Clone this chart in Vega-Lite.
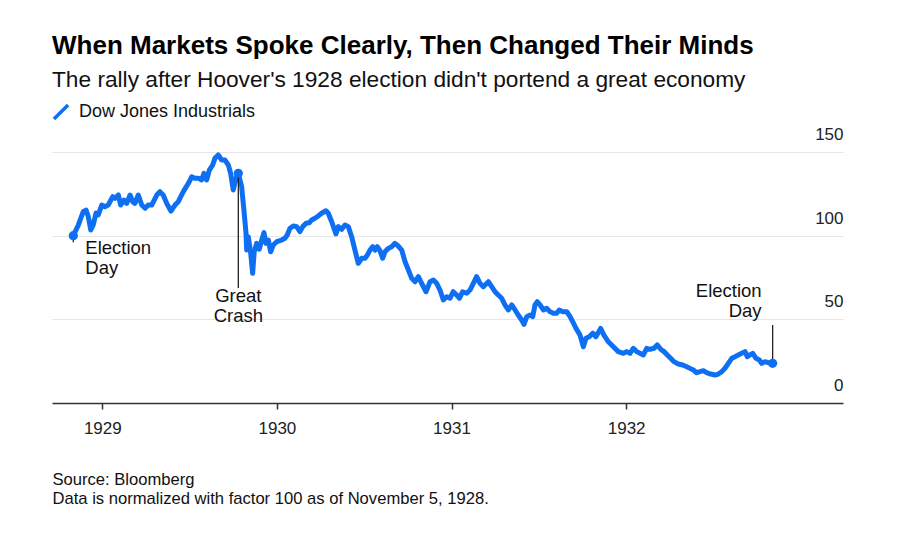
{
  "$schema": "https://vega.github.io/schema/vega-lite/v6.json",
  "width": 791,
  "height": 251,
  "autosize": {"type": "none"},
  "padding": {"left": 52, "top": 152, "right": 57, "bottom": 138},
  "background": "white",
  "config": {
    "view": {"stroke": null},
    "font": "Liberation Sans"
  },
  "title": {
    "text": "When Markets Spoke Clearly, Then Changed Their Minds",
    "subtitle": "The rally after Hoover's 1928 election didn't portend a great economy",
    "anchor": "start",
    "frame": "group",
    "font": "Liberation Sans",
    "fontSize": 26,
    "fontWeight": "bold",
    "color": "#000000",
    "subtitleFont": "Liberation Sans",
    "subtitleFontSize": 22.7,
    "subtitleColor": "#111111",
    "subtitlePadding": 10,
    "offset": 11
  },
  "datasets": {
    "dow": [
      {"year": 1928.834, "value": 100.0},
      {"year": 1928.863, "value": 106.4},
      {"year": 1928.891, "value": 114.3},
      {"year": 1928.907, "value": 115.3},
      {"year": 1928.920, "value": 111.3},
      {"year": 1928.934, "value": 103.4},
      {"year": 1928.948, "value": 106.4},
      {"year": 1928.964, "value": 113.5},
      {"year": 1928.977, "value": 112.4},
      {"year": 1928.997, "value": 118.3},
      {"year": 1929.015, "value": 117.3},
      {"year": 1929.034, "value": 118.3},
      {"year": 1929.060, "value": 123.3},
      {"year": 1929.073, "value": 122.3},
      {"year": 1929.092, "value": 124.3},
      {"year": 1929.105, "value": 118.3},
      {"year": 1929.124, "value": 121.3},
      {"year": 1929.140, "value": 119.3},
      {"year": 1929.159, "value": 124.3},
      {"year": 1929.174, "value": 120.3},
      {"year": 1929.187, "value": 119.3},
      {"year": 1929.206, "value": 124.3},
      {"year": 1929.226, "value": 118.3},
      {"year": 1929.245, "value": 116.4},
      {"year": 1929.263, "value": 118.3},
      {"year": 1929.283, "value": 118.3},
      {"year": 1929.312, "value": 124.3},
      {"year": 1929.330, "value": 126.3},
      {"year": 1929.349, "value": 124.3},
      {"year": 1929.369, "value": 119.3},
      {"year": 1929.393, "value": 114.7},
      {"year": 1929.416, "value": 118.3},
      {"year": 1929.435, "value": 120.3},
      {"year": 1929.464, "value": 126.3},
      {"year": 1929.493, "value": 131.3},
      {"year": 1929.512, "value": 135.2},
      {"year": 1929.531, "value": 134.3},
      {"year": 1929.550, "value": 134.3},
      {"year": 1929.569, "value": 133.3},
      {"year": 1929.582, "value": 137.3},
      {"year": 1929.598, "value": 133.3},
      {"year": 1929.613, "value": 139.2},
      {"year": 1929.632, "value": 142.2},
      {"year": 1929.645, "value": 146.2},
      {"year": 1929.664, "value": 148.2},
      {"year": 1929.684, "value": 145.2},
      {"year": 1929.703, "value": 145.2},
      {"year": 1929.722, "value": 142.2},
      {"year": 1929.735, "value": 137.3},
      {"year": 1929.750, "value": 127.3},
      {"year": 1929.766, "value": 134.3},
      {"year": 1929.779, "value": 137.3},
      {"year": 1929.798, "value": 129.3},
      {"year": 1929.811, "value": 115.3},
      {"year": 1929.823, "value": 101.6},
      {"year": 1929.827, "value": 91.4},
      {"year": 1929.836, "value": 99.4},
      {"year": 1929.850, "value": 89.5},
      {"year": 1929.861, "value": 77.5},
      {"year": 1929.870, "value": 90.4},
      {"year": 1929.884, "value": 95.4},
      {"year": 1929.899, "value": 91.9},
      {"year": 1929.913, "value": 97.4},
      {"year": 1929.926, "value": 101.8},
      {"year": 1929.937, "value": 95.4},
      {"year": 1929.951, "value": 97.4},
      {"year": 1929.964, "value": 90.4},
      {"year": 1929.979, "value": 94.4},
      {"year": 1929.999, "value": 96.4},
      {"year": 1930.027, "value": 97.4},
      {"year": 1930.046, "value": 98.4},
      {"year": 1930.059, "value": 100.4},
      {"year": 1930.075, "value": 104.4},
      {"year": 1930.094, "value": 105.8},
      {"year": 1930.113, "value": 105.4},
      {"year": 1930.132, "value": 102.4},
      {"year": 1930.148, "value": 105.4},
      {"year": 1930.167, "value": 107.4},
      {"year": 1930.185, "value": 107.7},
      {"year": 1930.199, "value": 109.4},
      {"year": 1930.218, "value": 110.4},
      {"year": 1930.237, "value": 111.8},
      {"year": 1930.256, "value": 113.4},
      {"year": 1930.281, "value": 114.9},
      {"year": 1930.294, "value": 113.4},
      {"year": 1930.314, "value": 108.3},
      {"year": 1930.327, "value": 104.4},
      {"year": 1930.338, "value": 101.0},
      {"year": 1930.352, "value": 105.4},
      {"year": 1930.371, "value": 103.8},
      {"year": 1930.390, "value": 106.4},
      {"year": 1930.409, "value": 105.4},
      {"year": 1930.428, "value": 99.4},
      {"year": 1930.447, "value": 91.4},
      {"year": 1930.466, "value": 83.5},
      {"year": 1930.486, "value": 86.5},
      {"year": 1930.505, "value": 86.5},
      {"year": 1930.518, "value": 88.4},
      {"year": 1930.533, "value": 91.4},
      {"year": 1930.549, "value": 93.4},
      {"year": 1930.562, "value": 91.4},
      {"year": 1930.575, "value": 93.4},
      {"year": 1930.590, "value": 91.0},
      {"year": 1930.606, "value": 86.5},
      {"year": 1930.619, "value": 90.4},
      {"year": 1930.638, "value": 92.4},
      {"year": 1930.657, "value": 93.4},
      {"year": 1930.676, "value": 95.4},
      {"year": 1930.695, "value": 93.8},
      {"year": 1930.715, "value": 91.4},
      {"year": 1930.734, "value": 84.4},
      {"year": 1930.753, "value": 79.5},
      {"year": 1930.772, "value": 74.5},
      {"year": 1930.791, "value": 72.5},
      {"year": 1930.810, "value": 75.5},
      {"year": 1930.829, "value": 71.5},
      {"year": 1930.854, "value": 66.5},
      {"year": 1930.877, "value": 72.5},
      {"year": 1930.896, "value": 73.5},
      {"year": 1930.915, "value": 71.5},
      {"year": 1930.934, "value": 67.5},
      {"year": 1930.953, "value": 61.6},
      {"year": 1930.972, "value": 63.5},
      {"year": 1930.991, "value": 62.6},
      {"year": 1931.010, "value": 66.5},
      {"year": 1931.030, "value": 64.5},
      {"year": 1931.045, "value": 62.6},
      {"year": 1931.064, "value": 66.5},
      {"year": 1931.087, "value": 65.6},
      {"year": 1931.106, "value": 67.5},
      {"year": 1931.125, "value": 71.5},
      {"year": 1931.144, "value": 75.5},
      {"year": 1931.163, "value": 71.5},
      {"year": 1931.182, "value": 69.5},
      {"year": 1931.211, "value": 72.5},
      {"year": 1931.230, "value": 69.5},
      {"year": 1931.249, "value": 66.5},
      {"year": 1931.268, "value": 64.5},
      {"year": 1931.287, "value": 62.6},
      {"year": 1931.306, "value": 58.6},
      {"year": 1931.325, "value": 55.6},
      {"year": 1931.345, "value": 58.6},
      {"year": 1931.364, "value": 55.6},
      {"year": 1931.382, "value": 52.6},
      {"year": 1931.402, "value": 49.6},
      {"year": 1931.415, "value": 47.0},
      {"year": 1931.431, "value": 51.6},
      {"year": 1931.450, "value": 52.6},
      {"year": 1931.465, "value": 51.6},
      {"year": 1931.478, "value": 58.6},
      {"year": 1931.491, "value": 60.5},
      {"year": 1931.507, "value": 58.6},
      {"year": 1931.526, "value": 55.6},
      {"year": 1931.545, "value": 56.6},
      {"year": 1931.564, "value": 54.6},
      {"year": 1931.583, "value": 53.6},
      {"year": 1931.602, "value": 53.6},
      {"year": 1931.617, "value": 55.6},
      {"year": 1931.637, "value": 54.6},
      {"year": 1931.660, "value": 54.6},
      {"year": 1931.679, "value": 51.6},
      {"year": 1931.694, "value": 48.6},
      {"year": 1931.713, "value": 44.6},
      {"year": 1931.736, "value": 40.6},
      {"year": 1931.755, "value": 33.6},
      {"year": 1931.770, "value": 38.7},
      {"year": 1931.789, "value": 39.6},
      {"year": 1931.809, "value": 41.7},
      {"year": 1931.827, "value": 39.6},
      {"year": 1931.854, "value": 44.6},
      {"year": 1931.873, "value": 40.6},
      {"year": 1931.898, "value": 36.6},
      {"year": 1931.927, "value": 33.6},
      {"year": 1931.955, "value": 30.7},
      {"year": 1931.984, "value": 29.7},
      {"year": 1932.003, "value": 30.7},
      {"year": 1932.022, "value": 29.7},
      {"year": 1932.041, "value": 32.7},
      {"year": 1932.061, "value": 30.7},
      {"year": 1932.079, "value": 29.7},
      {"year": 1932.098, "value": 28.7},
      {"year": 1932.118, "value": 32.7},
      {"year": 1932.137, "value": 32.1},
      {"year": 1932.160, "value": 32.7},
      {"year": 1932.178, "value": 34.7},
      {"year": 1932.198, "value": 32.1},
      {"year": 1932.217, "value": 30.7},
      {"year": 1932.236, "value": 28.7},
      {"year": 1932.255, "value": 26.7},
      {"year": 1932.274, "value": 24.7},
      {"year": 1932.299, "value": 23.3},
      {"year": 1932.324, "value": 22.7},
      {"year": 1932.347, "value": 21.7},
      {"year": 1932.366, "value": 20.7},
      {"year": 1932.385, "value": 19.7},
      {"year": 1932.404, "value": 18.1},
      {"year": 1932.423, "value": 18.7},
      {"year": 1932.442, "value": 19.3},
      {"year": 1932.461, "value": 18.1},
      {"year": 1932.484, "value": 17.3},
      {"year": 1932.509, "value": 16.7},
      {"year": 1932.528, "value": 17.3},
      {"year": 1932.547, "value": 18.7},
      {"year": 1932.566, "value": 20.7},
      {"year": 1932.585, "value": 23.7},
      {"year": 1932.605, "value": 26.7},
      {"year": 1932.624, "value": 27.7},
      {"year": 1932.642, "value": 28.7},
      {"year": 1932.662, "value": 29.7},
      {"year": 1932.681, "value": 30.7},
      {"year": 1932.694, "value": 27.7},
      {"year": 1932.709, "value": 28.7},
      {"year": 1932.725, "value": 29.7},
      {"year": 1932.744, "value": 26.7},
      {"year": 1932.763, "value": 25.7},
      {"year": 1932.776, "value": 23.7},
      {"year": 1932.795, "value": 24.7},
      {"year": 1932.814, "value": 24.1},
      {"year": 1932.839, "value": 23.7}
    ],
    "notes": [
      {"id": "start", "year": 1928.834, "value": 100.0, "ruleEnd": 96.0, "label": "Election\nDay"},
      {"id": "crash", "year": 1929.779, "value": 137.3, "ruleEnd": 68.7, "label": "Great\nCrash"},
      {"id": "end", "year": 1932.839, "value": 23.7, "ruleEnd": 46.6, "label": "Election\nDay"}
    ]
  },
  "layer": [
    {
      "data": {"name": "dow"},
      "mark": {"type": "line", "strokeWidth": 5, "strokeJoin": "round", "strokeCap": "round"},
      "encoding": {
        "x": {
          "field": "year",
          "type": "quantitative",
          "scale": {"domain": [1928.712, 1933.242], "nice": false, "zero": false},
          "axis": {
            "values": [1929, 1930, 1931, 1932],
            "format": "d",
            "grid": false,
            "domainColor": "#333333",
            "domainWidth": 1.5,
            "tickColor": "#333333",
            "tickWidth": 1.5,
            "tickSize": 6,
            "labelFlush": false,
            "labelFont": "Liberation Sans",
            "labelFontSize": 17,
            "labelColor": "#222222",
            "labelPadding": 11.5,
            "title": ["Source: Bloomberg", "Data is normalized with factor 100 as of November 5, 1928."],
            "titleAnchor": "start",
            "titleAlign": "left",
            "titleBaseline": "alphabetic",
            "titleX": 0,
            "titleY": 81.5,
            "titleFont": "Liberation Sans",
            "titleFontSize": 16.6,
            "titleFontWeight": "normal",
            "titleLineHeight": 18.5,
            "titleColor": "#111111"
          }
        },
        "y": {
          "field": "value",
          "type": "quantitative",
          "scale": {"domain": [0, 150], "nice": false},
          "axis": {
            "orient": "right",
            "values": [0, 50, 100, 150],
            "grid": true,
            "gridColor": "#e6e6e6",
            "gridWidth": 1.2,
            "domain": false,
            "ticks": false,
            "tickSize": 0,
            "labelAlign": "right",
            "labelBaseline": "alphabetic",
            "labelPadding": 0,
            "labelOffset": -12.5,
            "labelFont": "Liberation Sans",
            "labelFontSize": 17,
            "labelColor": "#222222",
            "title": null
          }
        },
        "color": {
          "datum": "Dow Jones Industrials",
          "type": "nominal",
          "scale": {"range": ["#0f6ff2"]},
          "legend": {
            "orient": "none",
            "legendX": 0,
            "legendY": -49,
            "title": null,
            "padding": 0,
            "symbolType": "M-1,1L1,-1",
            "symbolSize": 200,
            "symbolStrokeWidth": 3.5,
            "labelFont": "Liberation Sans",
            "labelFontSize": 18,
            "labelLimit": 400,
            "labelColor": "#111111",
            "labelOffset": 9
          }
        }
      }
    },
    {
      "data": {"name": "notes"},
      "mark": {"type": "rule", "color": "#222222", "strokeWidth": 1.3},
      "encoding": {
        "x": {"field": "year", "type": "quantitative"},
        "y": {"field": "value", "type": "quantitative"},
        "y2": {"field": "ruleEnd"}
      }
    },
    {
      "data": {"name": "notes"},
      "mark": {"type": "point", "filled": true, "size": 85, "opacity": 1, "color": "#0f6ff2"},
      "encoding": {
        "x": {"field": "year", "type": "quantitative"},
        "y": {"field": "value", "type": "quantitative"}
      }
    },
    {
      "data": {"name": "notes"},
      "transform": [{"filter": "datum.id === 'start'"}],
      "mark": {"type": "text", "align": "left", "baseline": "alphabetic", "dx": 12, "dy": 12, "lineBreak": "\n", "lineHeight": 20, "font": "Liberation Sans", "fontSize": 18.5, "color": "#111111"},
      "encoding": {
        "x": {"field": "year", "type": "quantitative"},
        "y": {"field": "ruleEnd", "type": "quantitative"},
        "text": {"field": "label"}
      }
    },
    {
      "data": {"name": "notes"},
      "transform": [{"filter": "datum.id === 'crash'"}],
      "mark": {"type": "text", "align": "center", "baseline": "alphabetic", "dx": 0, "dy": 14, "lineBreak": "\n", "lineHeight": 20, "font": "Liberation Sans", "fontSize": 18.5, "color": "#111111"},
      "encoding": {
        "x": {"field": "year", "type": "quantitative"},
        "y": {"field": "ruleEnd", "type": "quantitative"},
        "text": {"field": "label"}
      }
    },
    {
      "data": {"name": "notes"},
      "transform": [{"filter": "datum.id === 'end'"}],
      "mark": {"type": "text", "align": "right", "baseline": "alphabetic", "dx": -11, "dy": -28.5, "lineBreak": "\n", "lineHeight": 20, "font": "Liberation Sans", "fontSize": 18.5, "color": "#111111"},
      "encoding": {
        "x": {"field": "year", "type": "quantitative"},
        "y": {"field": "ruleEnd", "type": "quantitative"},
        "text": {"field": "label"}
      }
    }
  ]
}
